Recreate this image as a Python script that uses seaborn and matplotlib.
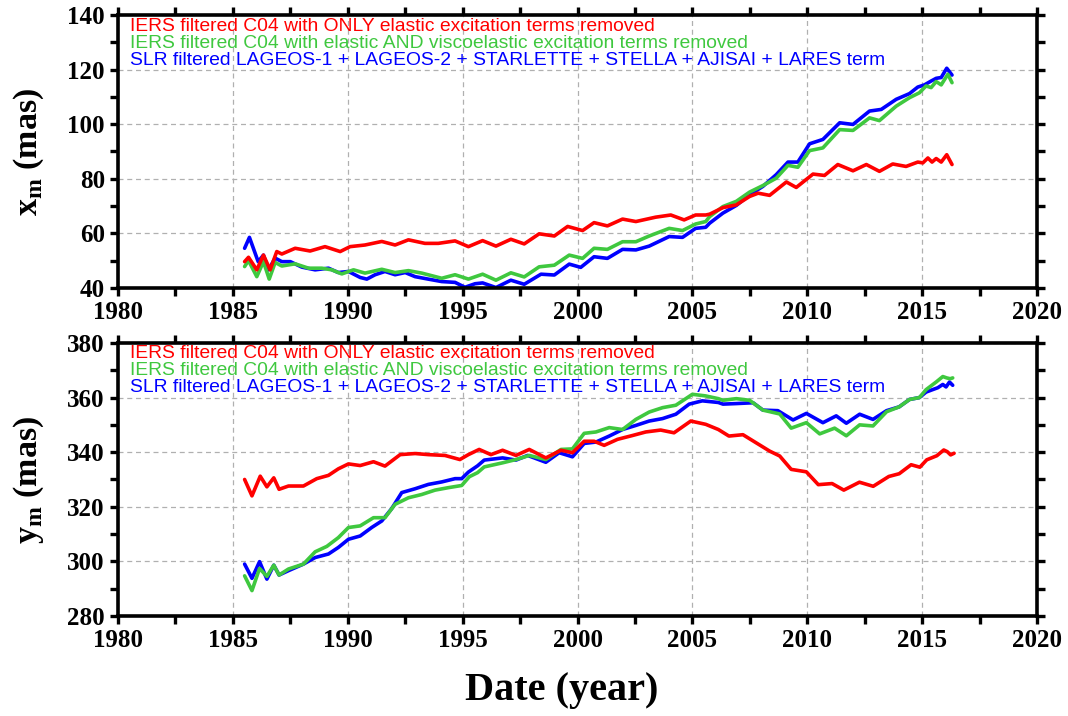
import numpy as np
import pandas as pd
import matplotlib
matplotlib.use("Agg")
import matplotlib.pyplot as plt
import seaborn as sns
from matplotlib.ticker import MultipleLocator

# ---------------- data: x_m (mas) ----------------
xm_red_year = [1985.51, 1985.68, 1986.04, 1986.33, 1986.62, 1986.91, 1987.13, 1987.71, 1988.36, 1989.01,
               1989.67, 1990.10, 1990.75, 1991.48, 1992.06, 1992.64, 1993.36, 1993.94, 1994.67, 1995.25,
               1995.87, 1996.45, 1997.10, 1997.68, 1998.33, 1998.99, 1999.57, 2000.22, 2000.72, 2001.30,
               2001.96, 2002.54, 2003.40, 2004.06, 2004.64, 2005.14, 2005.58, 2005.75, 2006.33, 2006.91,
               2007.49, 2007.86, 2008.36, 2009.09, 2009.52, 2010.25, 2010.75, 2011.33, 2011.99, 2012.57,
               2013.14, 2013.72, 2014.30, 2014.81, 2015.03, 2015.25, 2015.43, 2015.61, 2015.83, 2016.07,
               2016.30]
xm_red_val = [49.6, 51.2, 46.6, 52.0, 46.6, 53.3, 52.4, 54.5, 53.5, 55.1,
              53.3, 55.1, 55.7, 57.0, 55.7, 57.6, 56.3, 56.3, 57.2, 55.1,
              57.3, 55.3, 57.8, 56.1, 59.8, 59.0, 62.5, 61.0, 63.9, 62.7,
              65.2, 64.3, 65.9, 66.7, 64.9, 66.7, 66.7, 67.0, 69.4, 70.4,
              73.5, 74.7, 73.9, 78.8, 76.8, 81.7, 81.2, 85.2, 82.9, 85.2,
              82.7, 85.4, 84.5, 86.1, 85.8, 87.6, 86.1, 87.4, 86.1, 88.8,
              85.2]

xm_green_year = [1985.51, 1985.68, 1986.04, 1986.33, 1986.58, 1986.84, 1987.13, 1987.71, 1988.29, 1988.87,
                 1989.30, 1989.74, 1990.25, 1990.75, 1991.48, 1992.06, 1992.64, 1993.22, 1994.09, 1994.67,
                 1995.25, 1995.87, 1996.45, 1997.10, 1997.68, 1998.33, 1998.99, 1999.64, 2000.22, 2000.72,
                 2001.30, 2001.96, 2002.54, 2003.12, 2003.99, 2004.57, 2005.14, 2005.58, 2005.75, 2006.33,
                 2006.91, 2007.49, 2008.07, 2008.65, 2009.16, 2009.59, 2010.10, 2010.68, 2011.41, 2011.99,
                 2012.71, 2013.14, 2013.87, 2014.45, 2014.88, 2015.17, 2015.39, 2015.61, 2015.83, 2016.12,
                 2016.30]
xm_green_val = [47.8, 50.0, 44.1, 49.6, 43.2, 49.3, 48.0, 48.8, 47.2, 47.2,
                46.6, 45.1, 46.6, 45.4, 46.8, 45.6, 46.3, 45.4, 43.5, 44.8,
                43.2, 45.0, 42.8, 45.5, 44.0, 47.7, 48.3, 52.0, 50.8, 54.5,
                54.1, 56.9, 56.9, 59.0, 61.8, 61.0, 63.4, 64.3, 66.1, 69.8,
                71.7, 75.1, 77.5, 80.2, 84.9, 84.2, 90.3, 91.3, 98.0, 97.7,
                102.3, 101.3, 106.6, 109.7, 111.5, 114.0, 113.4, 115.6, 114.4, 118.3,
                115.2]

xm_blue_year = [1985.51, 1985.72, 1986.10, 1986.33, 1986.55, 1986.84, 1987.13, 1987.50, 1988.00, 1988.58,
                1989.16, 1989.59, 1990.03, 1990.54, 1990.83, 1991.19, 1991.62, 1992.06, 1992.50, 1992.93,
                1993.50, 1994.09, 1994.67, 1995.10, 1995.54, 1995.87, 1996.45, 1997.10, 1997.68, 1998.41,
                1998.99, 1999.64, 2000.14, 2000.72, 2001.30, 2001.96, 2002.54, 2003.12, 2003.99, 2004.57,
                2005.14, 2005.58, 2005.75, 2006.33, 2006.91, 2007.49, 2008.07, 2008.65, 2009.16, 2009.59,
                2010.10, 2010.68, 2011.41, 2011.99, 2012.71, 2013.22, 2013.87, 2014.45, 2014.81, 2015.10,
                2015.39, 2015.61, 2015.83, 2016.07, 2016.30]
xm_blue_val = [54.5, 58.5, 49.6, 52.0, 46.6, 50.9, 49.6, 49.6, 47.6, 46.6,
               47.2, 45.6, 46.0, 43.8, 43.2, 44.8, 46.0, 44.8, 45.6, 44.1,
               43.2, 42.3, 42.0, 40.2, 41.5, 41.8, 40.1, 42.8, 41.3, 45.0,
               44.7, 48.7, 47.5, 51.4, 50.8, 54.1, 53.9, 55.3, 58.8, 58.5,
               61.8, 62.2, 63.7, 67.4, 70.2, 74.1, 77.2, 81.5, 86.1, 86.1,
               92.8, 94.4, 100.5, 99.9, 104.8, 105.4, 109.1, 111.2, 113.6, 114.4,
               115.8, 116.8, 117.1, 120.5, 118.0]

# ---------------- data: y_m (mas) ----------------
ym_red_year = [1985.51, 1985.83, 1986.19, 1986.48, 1986.78, 1987.01, 1987.42, 1988.07, 1988.65, 1989.16,
               1989.59, 1990.03, 1990.54, 1991.12, 1991.62, 1992.28, 1992.93, 1993.51, 1994.23, 1994.88,
               1995.25, 1995.72, 1996.23, 1996.74, 1997.32, 1997.90, 1998.62, 1999.28, 1999.78, 2000.29,
               2000.72, 2001.16, 2001.74, 2002.39, 2002.97, 2003.62, 2004.20, 2004.93, 2005.58, 2006.13,
               2006.59, 2007.20, 2007.78, 2008.36, 2008.80, 2009.30, 2009.96, 2010.48, 2011.08, 2011.59,
               2012.27, 2012.87, 2013.55, 2014.00, 2014.52, 2014.90, 2015.20, 2015.64, 2015.94, 2016.09,
               2016.24, 2016.39]
ym_red_val = [330.0, 324.0, 331.2, 327.3, 330.6, 326.4, 327.6, 327.6, 330.3, 331.5,
              333.9, 335.7, 335.1, 336.5, 334.9, 339.1, 339.5, 339.1, 338.8, 337.3,
              339.1, 341.0, 339.1, 340.7, 338.8, 341.0, 337.9, 340.7, 339.8, 344.0,
              344.0, 342.5, 344.7, 346.1, 347.4, 348.1, 347.1, 351.4, 350.2, 348.3,
              345.9, 346.4, 343.4, 340.4, 338.6, 333.7, 332.8, 328.1, 328.5, 326.1,
              329.0, 327.5, 331.1, 332.1, 335.4, 334.5, 337.2, 338.7, 340.8, 340.2,
              339.0, 339.6]

ym_green_year = [1985.51, 1985.83, 1986.16, 1986.48, 1986.78, 1987.01, 1987.42, 1988.07, 1988.58, 1989.09,
                 1989.59, 1990.03, 1990.54, 1991.12, 1991.62, 1992.06, 1992.64, 1993.22, 1993.80, 1994.38,
                 1994.96, 1995.29, 1995.65, 1995.94, 1996.74, 1997.32, 1997.90, 1998.62, 1999.28, 1999.78,
                 2000.29, 2000.80, 2001.38, 2001.96, 2002.54, 2003.12, 2003.70, 2004.28, 2005.00, 2005.58,
                 2006.13, 2006.33, 2006.91, 2007.49, 2008.07, 2008.80, 2009.30, 2009.96, 2010.54, 2011.19,
                 2011.70, 2012.28, 2012.86, 2013.45, 2014.00, 2014.45, 2014.88, 2015.17, 2015.61, 2015.90,
                 2016.07, 2016.22, 2016.33]
ym_green_val = [294.7, 289.3, 297.4, 294.5, 298.6, 295.0, 297.2, 299.0, 303.5, 305.5,
                308.7, 312.4, 313.0, 316.0, 316.0, 320.9, 323.3, 324.5, 326.1, 327.0,
                327.8, 331.0, 332.5, 334.6, 336.1, 337.3, 338.8, 337.3, 341.0, 341.2,
                346.9, 347.4, 349.0, 348.3, 352.0, 354.7, 356.3, 357.2, 361.2, 360.6,
                359.6, 359.0, 359.6, 359.0, 355.4, 354.0, 348.8, 350.8, 346.7, 348.8,
                346.0, 350.0, 349.6, 354.8, 356.6, 359.3, 360.0, 362.9, 365.7, 367.7,
                367.2, 366.9, 367.2]

ym_blue_year = [1985.51, 1985.83, 1986.16, 1986.48, 1986.78, 1987.01, 1987.42, 1988.07, 1988.58, 1989.16,
                1989.59, 1990.03, 1990.54, 1991.04, 1991.48, 1991.91, 1992.35, 1992.93, 1993.51, 1994.09,
                1994.67, 1994.96, 1995.25, 1995.65, 1995.94, 1996.74, 1997.32, 1997.83, 1998.62, 1999.20,
                1999.78, 2000.29, 2000.80, 2001.38, 2001.96, 2002.54, 2003.12, 2003.70, 2004.28, 2004.86,
                2005.43, 2006.13, 2006.33, 2006.91, 2007.64, 2008.07, 2008.72, 2009.38, 2009.96, 2010.68,
                2011.26, 2011.70, 2012.28, 2012.86, 2013.45, 2014.00, 2014.45, 2014.88, 2015.17, 2015.39,
                2015.68, 2015.90, 2016.04, 2016.19, 2016.33]
ym_blue_val = [299.0, 293.8, 299.9, 293.5, 298.6, 295.0, 296.6, 299.0, 301.4, 302.7,
               305.1, 308.1, 309.3, 312.4, 314.8, 319.3, 325.2, 326.6, 328.2, 329.1,
               330.3, 330.3, 332.7, 335.0, 337.1, 337.9, 337.1, 338.8, 336.3, 339.8,
               338.3, 343.2, 343.7, 345.9, 348.3, 349.8, 351.4, 352.3, 353.9, 357.6,
               358.8, 358.2, 357.6, 357.8, 358.1, 355.4, 355.2, 351.8, 354.2, 350.8,
               353.3, 350.6, 353.9, 352.0, 355.2, 356.6, 359.3, 360.0, 362.0, 362.7,
               363.6, 364.8, 363.9, 365.7, 364.5]

series_labels = [
    "IERS filtered C04 with ONLY elastic excitation terms removed",
    "IERS filtered C04 with elastic AND viscoelastic excitation terms removed",
    "SLR filtered LAGEOS-1 + LAGEOS-2 + STARLETTE + STELLA + AJISAI + LARES term",
]
series_keys = ["elastic", "viscoelastic", "slr"]
colors = {"elastic": "#ff0000", "viscoelastic": "#3fc83f", "slr": "#0000ff"}

x_ticks = [1980, 1985, 1990, 1995, 2000, 2005, 2010, 2015, 2020]
xm_ticks = [40, 60, 80, 100, 120, 140]
ym_ticks = [280, 300, 320, 340, 360, 380]


def long_frame(parts):
    frames = []
    for key, yrs, vals in parts:
        frames.append(pd.DataFrame({"year": yrs, "value": vals, "series": key}))
    return pd.concat(frames, ignore_index=True)


df_xm = long_frame([
    ("slr", xm_blue_year, xm_blue_val),
    ("viscoelastic", xm_green_year, xm_green_val),
    ("elastic", xm_red_year, xm_red_val),
])
df_ym = long_frame([
    ("slr", ym_blue_year, ym_blue_val),
    ("viscoelastic", ym_green_year, ym_green_val),
    ("elastic", ym_red_year, ym_red_val),
])

sns.set_style("white")
plt.rcParams["font.family"] = ["Liberation Serif", "DejaVu Serif"]
plt.rcParams["mathtext.fontset"] = "custom"
plt.rcParams["mathtext.rm"] = "Liberation Serif:bold"
plt.rcParams["text.color"] = "black"
plt.rcParams["axes.labelcolor"] = "black"
plt.rcParams["xtick.color"] = "black"
plt.rcParams["ytick.color"] = "black"

fig = plt.figure(figsize=(10.68, 7.16), dpi=100)
ax1 = fig.add_axes([0.1105, 0.598, 0.8605, 0.381])
ax2 = fig.add_axes([0.1105, 0.1397, 0.8605, 0.3813])


def style_axis(ax, df, yticks, ylabel):
    sns.lineplot(data=df, x="year", y="value", hue="series", palette=colors,
                 hue_order=["slr", "viscoelastic", "elastic"], estimator=None,
                 sort=False, legend=False, linewidth=2.6, ax=ax)
    ax.set_xlim(x_ticks[0], x_ticks[-1])
    ax.set_ylim(yticks[0], yticks[-1])
    ax.set_xticks(x_ticks)
    ax.set_yticks(yticks)
    ax.xaxis.set_minor_locator(MultipleLocator(2.5))
    ax.yaxis.set_minor_locator(MultipleLocator(10))
    ax.grid(True, which="major", color="#b0b0b0", linestyle=(0, (4, 3)), linewidth=0.9)
    ax.set_axisbelow(True)
    for sp in ax.spines.values():
        sp.set_visible(True)
        sp.set_linewidth(2.6)
        sp.set_color("black")
    ax.tick_params(which="both", direction="out", length=5.5, width=2.4,
                   top=True, right=True, bottom=True, left=True,
                   labeltop=False, labelright=False, colors="black")
    ax.tick_params(which="major", labelsize=18, pad=4)
    for lab in ax.get_xticklabels() + ax.get_yticklabels():
        lab.set_fontweight("bold")
    ax.set_xlabel("")
    ax.set_ylabel(ylabel, fontsize=24.5, fontweight="bold", color="black")
    ax.yaxis.set_label_coords(-0.078, 0.5)
    # series captions
    for i, (key, text) in enumerate(zip(series_keys, series_labels)):
        ax.text(0.013, 1 - (11 + 17 * i) / 273.0, text, transform=ax.transAxes,
                color=colors[key], fontsize=13.9, va="center", ha="left",
                family=["Liberation Sans", "DejaVu Sans"])


style_axis(ax1, df_xm, xm_ticks, r"x$_\mathregular{m}$ (mas)")
style_axis(ax2, df_ym, ym_ticks, r"y$_\mathregular{m}$ (mas)")

fig.text(0.526, 0.036, "Date (year)", ha="center", va="center",
         fontsize=29, fontweight="bold", color="black")

fig.savefig("out.png", dpi=100)
